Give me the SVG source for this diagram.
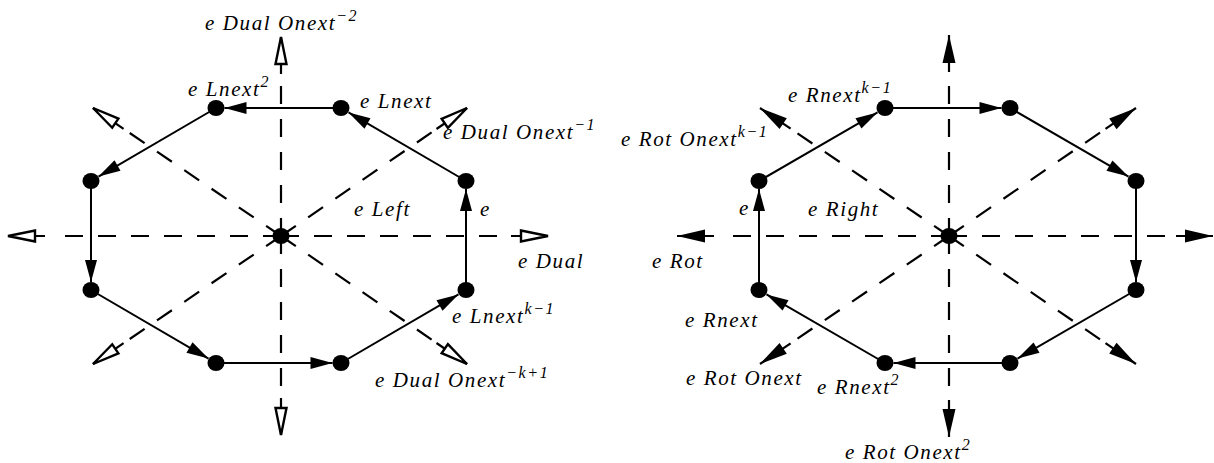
<svg xmlns="http://www.w3.org/2000/svg" width="1214" height="463" viewBox="0 0 1214 463">
<style>
.edge{stroke:#000;stroke-width:2;fill:none;marker-end:url(#ah)}
.axis{stroke:#000;stroke-width:2.2;stroke-dasharray:18 15;fill:none}
.stemO{stroke:#000;stroke-width:2.2;fill:none;marker-end:url(#openA)}
.stemF{stroke:#000;stroke-width:2.2;fill:none;marker-end:url(#fillA)}
.node{fill:#000}
text{font-family:"Liberation Serif","Times New Roman",serif;font-style:italic;font-size:21px;letter-spacing:1.6px;fill:#000}
.sup{font-size:16px;letter-spacing:1.6px}
</style>
<defs>
<marker id="ah" markerUnits="userSpaceOnUse" viewBox="-2 -2 26 16" markerWidth="26" markerHeight="16" refX="22" refY="6" orient="auto" overflow="visible"><path d="M0,0 L22,6 L0,12 z" fill="#000"/></marker>
<marker id="openA" markerUnits="userSpaceOnUse" viewBox="-3 -3 33 17" markerWidth="33" markerHeight="17" refX="27" refY="5.5" orient="auto" overflow="visible"><path d="M0,0 L27,5.5 L0,11 z" fill="#fff" stroke="#000" stroke-width="2.4"/></marker>
<marker id="fillA" markerUnits="userSpaceOnUse" viewBox="-2 -2 32 17" markerWidth="32" markerHeight="17" refX="28" refY="6.5" orient="auto" overflow="visible"><path d="M0,0 L28,6.5 L0,13 z" fill="#000"/></marker>
</defs>
<g id="connectors">
<!-- left diagram axes -->
<path class="axis" d="M281,236 L51,236"/><path class="stemO" d="M45,236 L8,236"/>
<path class="axis" d="M281,236 L505,236"/><path class="stemO" d="M511,236 L548,236"/>
<path class="axis" d="M281,236 L281,80"/><path class="stemO" d="M281,74 L281,37"/>
<path class="axis" d="M281,236 L281,392"/><path class="stemO" d="M281,398 L281,435"/>
<path class="axis" d="M281,236 L128.5,132.2"/><path class="stemO" d="M123.6,128.8 L93,108"/>
<path class="axis" d="M281,236 L431.6,132.4"/><path class="stemO" d="M436.5,129 L467,108"/>
<path class="axis" d="M281,236 L128.5,339.8"/><path class="stemO" d="M123.6,343.2 L93,364"/>
<path class="axis" d="M281,236 L431.6,339.6"/><path class="stemO" d="M436.5,343 L467,364"/>
<!-- left diagram edges -->
<path class="edge" d="M341,108 L224.5,108"/>
<path class="edge" d="M466,181 L348.5,112.4"/>
<path class="edge" d="M466,290 L466,189"/>
<path class="edge" d="M341,363 L458.5,294.4"/>
<path class="edge" d="M216,363 L332.5,363"/>
<path class="edge" d="M91,290 L208.5,358.6"/>
<path class="edge" d="M91,181 L91,282"/>
<path class="edge" d="M216,108 L98.5,176.6"/>
<!-- right diagram axes -->
<path class="axis" d="M949,236 L720,236"/><path class="stemF" d="M714,236 L677,236"/>
<path class="axis" d="M949,236 L1170,236"/><path class="stemF" d="M1176,236 L1213,236"/>
<path class="axis" d="M949,236 L949,78"/><path class="stemF" d="M949,72 L949,35"/>
<path class="axis" d="M949,236 L949,394"/><path class="stemF" d="M949,400 L949,437"/>
<path class="axis" d="M949,236 L795.6,132.1"/><path class="stemF" d="M790.6,128.7 L760,108"/>
<path class="axis" d="M949,236 L1100.5,132.3"/><path class="stemF" d="M1105.5,128.9 L1136,108"/>
<path class="axis" d="M949,236 L795.6,339.9"/><path class="stemF" d="M790.6,343.3 L760,364"/>
<path class="axis" d="M949,236 L1100.5,339.7"/><path class="stemF" d="M1105.5,343.1 L1136,364"/>
<!-- right diagram edges -->
<path class="edge" d="M759,290 L759,189"/>
<path class="edge" d="M759,181 L877.5,112.4"/>
<path class="edge" d="M885,108 L1001.5,108"/>
<path class="edge" d="M1010,108 L1128.5,176.6"/>
<path class="edge" d="M1136,181 L1136,282"/>
<path class="edge" d="M1136,290 L1017.5,358.6"/>
<path class="edge" d="M1010,363 L893.5,363"/>
<path class="edge" d="M885,363 L766.5,294.4"/>
</g>
<g id="L-center"><ellipse class="node" cx="281" cy="236" rx="8.5" ry="8"/></g>
<g id="L-n1"><ellipse class="node" cx="216" cy="108" rx="8.5" ry="8"/></g>
<g id="L-n2"><ellipse class="node" cx="341" cy="108" rx="8.5" ry="8"/></g>
<g id="L-n3"><ellipse class="node" cx="466" cy="181" rx="8.5" ry="8"/></g>
<g id="L-n4"><ellipse class="node" cx="466" cy="290" rx="8.5" ry="8"/></g>
<g id="L-n5"><ellipse class="node" cx="341" cy="363" rx="8.5" ry="8"/></g>
<g id="L-n6"><ellipse class="node" cx="216" cy="363" rx="8.5" ry="8"/></g>
<g id="L-n7"><ellipse class="node" cx="91" cy="290" rx="8.5" ry="8"/></g>
<g id="L-n8"><ellipse class="node" cx="91" cy="181" rx="8.5" ry="8"/></g>
<g id="R-center"><ellipse class="node" cx="949" cy="236" rx="8.5" ry="8"/></g>
<g id="R-n1"><ellipse class="node" cx="885" cy="108" rx="8.5" ry="8"/></g>
<g id="R-n2"><ellipse class="node" cx="1010" cy="108" rx="8.5" ry="8"/></g>
<g id="R-n3"><ellipse class="node" cx="1136" cy="181" rx="8.5" ry="8"/></g>
<g id="R-n4"><ellipse class="node" cx="1136" cy="290" rx="8.5" ry="8"/></g>
<g id="R-n5"><ellipse class="node" cx="1010" cy="363" rx="8.5" ry="8"/></g>
<g id="R-n6"><ellipse class="node" cx="885" cy="363" rx="8.5" ry="8"/></g>
<g id="R-n7"><ellipse class="node" cx="759" cy="290" rx="8.5" ry="8"/></g>
<g id="R-n8"><ellipse class="node" cx="759" cy="181" rx="8.5" ry="8"/></g>
<g id="labels">
<text x="205" y="30">e Dual Onext<tspan class="sup" dy="-9">−2</tspan></text>
<text x="188" y="96">e Lnext<tspan class="sup" dy="-9">2</tspan></text>
<text x="360" y="108">e Lnext</text>
<text x="443" y="139">e Dual Onext<tspan class="sup" dy="-9">−1</tspan></text>
<text x="354" y="216">e Left</text>
<text x="480" y="216">e</text>
<text x="518" y="268">e Dual</text>
<text x="452" y="323">e Lnext<tspan class="sup" dy="-9">k−1</tspan></text>
<text x="375" y="387">e Dual Onext<tspan class="sup" dy="-9">−k+1</tspan></text>
<text x="788" y="102">e Rnext<tspan class="sup" dy="-9">k−1</tspan></text>
<text x="621" y="146">e Rot Onext<tspan class="sup" dy="-9">k−1</tspan></text>
<text x="739" y="215">e</text>
<text x="808" y="216">e Right</text>
<text x="652" y="268">e Rot</text>
<text x="685" y="327">e Rnext</text>
<text x="686" y="385">e Rot Onext</text>
<text x="817" y="394">e Rnext<tspan class="sup" dy="-9">2</tspan></text>
<text x="845" y="459">e Rot Onext<tspan class="sup" dy="-9">2</tspan></text>
</g>
</svg>
